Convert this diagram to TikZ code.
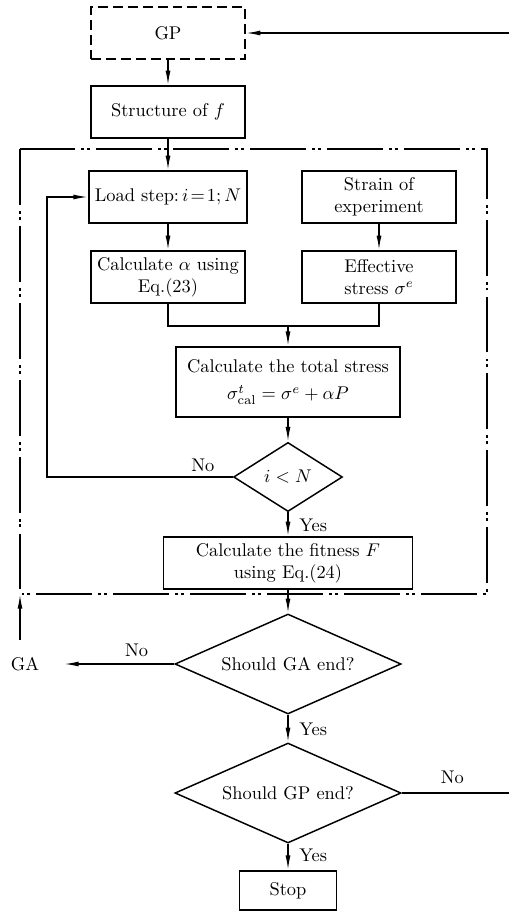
\documentclass[tikz,border=0pt]{standalone}
\usepackage{amsmath}
\usetikzlibrary{shapes.geometric,
	arrows.meta,
	calc,
	positioning}

\begin{document}
\begin{tikzpicture}[x=0.0191cm, y=-0.0191cm,
                            block/.style={draw, rectangle, line width=0.8pt, align=center, minimum width=2.94cm, minimum height=0.99cm},
                            gpbox/.style={block, dash pattern=on 5.4pt off 2.7pt},
                            decide/.style={draw, diamond, line width=0.8pt, inner sep=0pt, aspect=2.26, minimum width=4.32cm, minimum height=1.91cm},
                            link/.style={line width=0.8pt, -{Latex[length=8pt,width=2.7pt]}},
                            wire/.style={line width=0.8pt},
                            frame/.style={line width=0.8pt, dash pattern=on 30.4pt off 3.3pt on 1.6pt off 1.6pt on 1.6pt off 3.3pt},
                            answer/.style={inner sep=0pt}]
                            \useasboundingbox (0,0) rectangle (509,911);
                            % boxes and decisions
                            \node (gp) [gpbox] at (168,33) {GP};
                            \node (struct) [block] at (168,112) {Structure of $f$};
                            \node (load) [block] at (168,197) {Load step:\,$i\!=\!1;N$};
                            \node (strain) [block] at (379,197) {Strain of\\experiment};
                            \node (alpha) [block] at (168,277) {Calculate $\alpha$ using\\Eq.(23)};
                            \node (eff) [block] at (379,277) {Effective\\stress $\sigma^e$};
                            \node (total) [block, minimum width=4.28cm, minimum height=1.34cm] at (288,382) {Calculate the total stress\\[3pt]$\sigma^t_{\mathrm{cal}}=\sigma^e+\alpha P$};
                            \node (lt) [decide, minimum width=2.08cm, minimum height=1.32cm] at (288,477) {$i<N$};
                            \node (fit) [block, minimum width=4.76cm, minimum height=0.92cm] at (288,563) {Calculate the fitness $F$\\using Eq.(24)};
                            \node (gaend) [decide] at (288,664) {Should GA end?};
                            \node (gpend) [decide] at (288,793) {Should GP end?};
                            \node (stop) [block, minimum width=1.85cm, minimum height=0.75cm] at (288,890.5) {Stop};
                            \node (ga) at (25,664) {GA};
                            % free ends
                            \coordinate (rtop) at (509,33);
                            \coordinate (rbot) at (509,793);
                            \coordinate (fnw) at (20,149);
                            \coordinate (fse) at (487,594);
                            \coordinate (join) at (288,326);
                            \coordinate (back) at (47,477);
                            \coordinate (gaup) at (20,640);
                            \draw[frame] (fnw) rectangle (fse);
                            % connectors
                            \draw[link] (rtop) -- (gp.east);
                            \draw[link] (gp) -- (struct);
                            \draw[link] (struct) -- (load);
                            \draw[link] (load) -- (alpha);
                            \draw[link] (strain) -- (eff);
                            \draw[wire] (alpha.south) |- (join) -| (eff.south);
                            \draw[link] (join) -- (total);
                            \draw[link] (total) -- (lt);
                            \draw[link] (lt.west) -- (back) |- (load.west);
                            \draw[link] (lt) -- (fit);
                            \draw[link] (fit) -- (gaend);
                            \draw[link, shorten >=10pt] (gaend.west) -- (ga.east);
                            \draw[link] (gaup) -- (fnw |- fse);
                            \draw[link] (gaend) -- (gpend);
                            \draw[wire] (gpend.east) -- (rbot);
                            \draw[link] (gpend) -- (stop);
                            % answers
                            \node (ltno) [answer, above left=2.7pt and 9.8pt of lt.west] {No};
                            \node (ltyes) [answer, below right=3.3pt and 6pt of lt.south] {Yes};
                            \node (gano) [answer, above left=3.8pt and 14pt of gaend.west] {No};
                            \node (gayes) [answer, below right=4.3pt and 6pt of gaend.south] {Yes};
                            \node (gpno) [answer, above right=5pt and 21pt of gpend.east] {No};
                            \node (gpyes) [answer, below right=2.7pt and 6pt of gpend.south] {Yes};
                        \end{tikzpicture}
\end{document}
